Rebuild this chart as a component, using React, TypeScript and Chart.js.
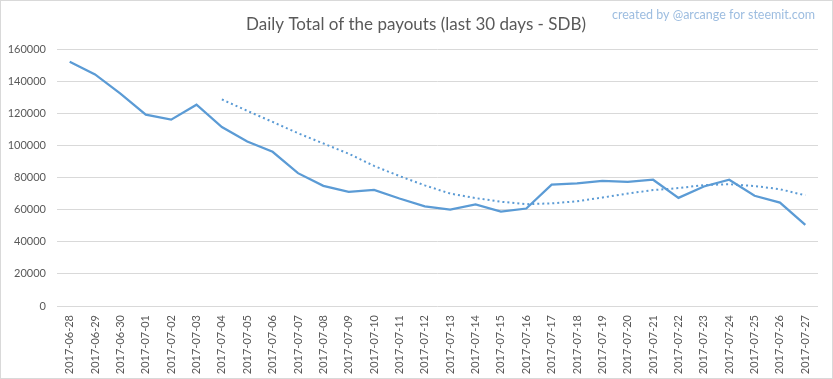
import React, { useEffect, useRef } from "react";
import { Chart, registerables } from "chart.js";

Chart.register(...registerables);

const categories = [
  "2017-06-28", "2017-06-29", "2017-06-30", "2017-07-01", "2017-07-02", "2017-07-03",
  "2017-07-04", "2017-07-05", "2017-07-06", "2017-07-07", "2017-07-08", "2017-07-09",
  "2017-07-10", "2017-07-11", "2017-07-12", "2017-07-13", "2017-07-14", "2017-07-15",
  "2017-07-16", "2017-07-17", "2017-07-18", "2017-07-19", "2017-07-20", "2017-07-21",
  "2017-07-22", "2017-07-23", "2017-07-24", "2017-07-25", "2017-07-26", "2017-07-27",
];

const payouts = [
  152000, 144200, 132200, 119100, 116000, 125300,
  111400, 102400, 96000, 82700, 74800, 71100,
  72300, 66900, 62000, 60000, 63200, 58800,
  60700, 75600, 76300, 77900, 77300, 78600,
  67300, 74400, 78600, 68600, 64400, 50500,
];

const trend = [
  null, null, null, null, null, null,
  128600, 121500, 114600, 107600, 101200, 94800,
  87200, 80900, 75100, 70000, 67200, 64900,
  63400, 63900, 65200, 67500, 70000, 72200,
  73400, 75300, 75800, 74700, 72700, 68900,
];

const yTicks = [0, 20000, 40000, 60000, 80000, 100000, 120000, 140000, 160000];

const titleText = "Daily Total of the payouts (last 30 days - SDB)";
const creditText = "created by @arcange for steemit.com";

const FONT = "Lato, 'Open Sans', sans-serif";
const LINE = "#5b9bd5";

const framePlugin = {
  id: "frame",
  beforeDraw(chart: any) {
    const { ctx, width, height } = chart;
    ctx.save();
    ctx.fillStyle = "#ffffff";
    ctx.fillRect(0, 0, width, height);
    ctx.strokeStyle = "#d9d9d9";
    ctx.lineWidth = 1;
    ctx.strokeRect(0.5, 0.5, width - 1, height - 1);
    ctx.restore();
  },
  afterDraw(chart: any) {
    const { ctx } = chart;
    ctx.save();
    ctx.textBaseline = "middle";
    ctx.fillStyle = "#595959";
    ctx.font = `17px ${FONT}`;
    ctx.textAlign = "center";
    ctx.fillText(titleText, 416, 25);
    ctx.fillStyle = "#9dbde0";
    ctx.font = `12.5px ${FONT}`;
    ctx.textAlign = "right";
    ctx.fillText(creditText, 815, 15);
    ctx.restore();
  },
};

export default function App() {
  const ref = useRef<HTMLCanvasElement>(null);

  useEffect(() => {
    document.body.style.margin = "0";
    const chart = new Chart(ref.current!, {
      type: "line",
      data: {
        labels: categories,
        datasets: [
          {
            data: payouts,
            borderColor: LINE,
            borderWidth: 2.25,
            pointRadius: 0,
            tension: 0,
            fill: false,
          },
          {
            data: trend as any,
            borderColor: LINE,
            borderWidth: 2,
            borderDash: [2, 3],
            pointRadius: 0,
            tension: 0,
            fill: false,
            spanGaps: false,
          },
        ],
      },
      options: {
        responsive: false,
        animation: false,
        layout: { padding: { left: 0, top: 49, right: 15, bottom: 0 } },
        plugins: {
          legend: { display: false },
          title: { display: false },
          tooltip: { enabled: false },
        },
        scales: {
          x: {
            offset: true,
            grid: { display: false, drawTicks: false },
            border: { display: false },
            ticks: {
              autoSkip: false,
              maxRotation: 90,
              minRotation: 90,
              padding: 9,
              color: "#595959",
              font: { family: FONT, size: 11 },
            },
            afterFit(scale: any) {
              scale.height = 73;
            },
          },
          y: {
            min: 0,
            max: 160000,
            afterBuildTicks(scale: any) {
              scale.ticks = yTicks.map((v) => ({ value: v }));
            },
            grid: { color: "#d9d9d9", drawTicks: false, lineWidth: 1 },
            border: { display: false },
            ticks: {
              padding: 11,
              color: "#595959",
              font: { family: FONT, size: 11 },
              callback: (v: any) => String(v),
            },
            afterFit(scale: any) {
              scale.width = 57;
            },
          },
        },
      },
      plugins: [framePlugin],
    });
    return () => chart.destroy();
  }, []);

  return (
    <div style={{ position: "absolute", left: 0, top: 0, width: 833, height: 379 }}>
      <canvas ref={ref} width={833} height={379} style={{ display: "block" }} />
    </div>
  );
}
